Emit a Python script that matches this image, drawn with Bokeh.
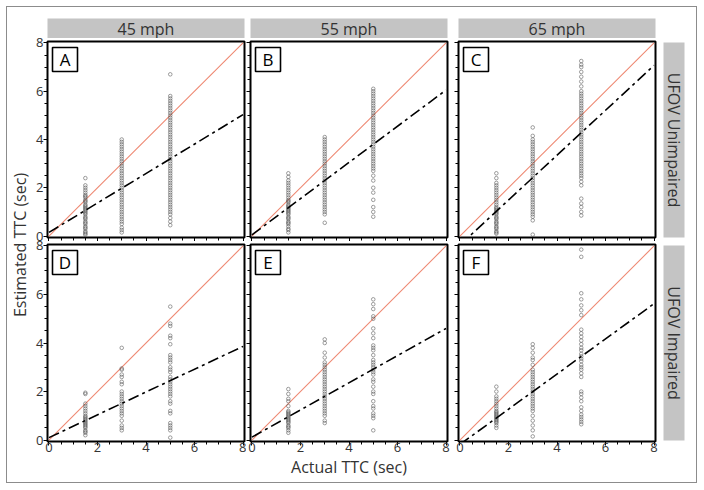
import math
from bokeh.plotting import figure
from bokeh.layouts import row, column
from bokeh.models import Range1d, SingleIntervalTicker, FixedTicker, Spacer
from bokeh.core.properties import value
from bokeh.embed import file_html
from bokeh.resources import INLINE

FONT = "Open Sans"
TXT = "#333333"

# ---------------- data ----------------
speeds = ["45 mph", "55 mph", "65 mph"]
groups = ["UFOV Unimpaired", "UFOV Impaired"]
letters = [["A", "B", "C"], ["D", "E", "F"]]
actual_ttc = [1.5, 3.0, 5.0]
tick_values = [0, 2, 4, 6, 8]
x_title = "Actual TTC (sec)"
y_title = "Estimated TTC (sec)"

A_15 = [0.05, 0.1, 0.15, 0.2, 0.3, 0.35, 0.4, 0.5, 0.55, 0.6, 0.7, 0.75, 0.8, 0.9, 0.95, 1.0, 1.05, 1.1,
        1.15, 1.2, 1.25, 1.3, 1.4, 1.45, 1.5, 1.6, 1.65, 1.7, 1.8, 1.9, 2.0, 2.1, 2.4]
A_3 = [0.15, 0.25, 0.35, 0.5, 0.6, 0.7, 0.8, 0.9, 1.0, 1.1, 1.2, 1.3, 1.4, 1.5, 1.6, 1.7, 1.8, 1.9, 2.0,
       2.1, 2.2, 2.3, 2.4, 2.5, 2.6, 2.7, 2.8, 2.9, 3.0, 3.1, 3.2, 3.3, 3.4, 3.5, 3.6, 3.7, 3.8, 3.9, 4.0]
A_5 = [0.45, 0.6, 0.75, 0.9, 1.0, 1.1, 1.2, 1.3, 1.4, 1.5, 1.6, 1.7, 1.8, 1.9, 2.0, 2.1, 2.2, 2.3, 2.4,
       2.5, 2.6, 2.7, 2.8, 2.9, 3.0, 3.1, 3.2, 3.3, 3.4, 3.5, 3.6, 3.7, 3.8, 3.9, 4.0, 4.1, 4.2, 4.3,
       4.4, 4.5, 4.6, 4.7, 4.8, 4.9, 5.0, 5.1, 5.2, 5.3, 5.4, 5.5, 5.6, 5.7, 5.8, 6.7]

B_15 = [0.15, 0.25, 0.3, 0.4, 0.5, 0.55, 0.6, 0.7, 0.75, 0.8, 0.9, 0.95, 1.0, 1.05, 1.1, 1.15, 1.2, 1.25,
        1.3, 1.4, 1.45, 1.5, 1.6, 1.7, 1.8, 1.9, 2.0, 2.1, 2.2, 2.3, 2.45, 2.6]
B_3 = [0.55, 0.9, 1.0, 1.1, 1.2, 1.3, 1.4, 1.5, 1.6, 1.7, 1.8, 1.9, 2.0, 2.1, 2.2, 2.3, 2.4, 2.5, 2.6,
       2.7, 2.8, 2.9, 3.0, 3.1, 3.2, 3.3, 3.4, 3.5, 3.6, 3.7, 3.8, 3.9, 4.0, 4.1]
B_5 = [0.8, 1.0, 1.2, 1.5, 1.8, 2.0, 2.3, 2.5, 2.7, 2.8, 2.9, 3.0, 3.1, 3.2, 3.3, 3.4, 3.5, 3.6, 3.7,
       3.8, 3.9, 4.0, 4.1, 4.2, 4.3, 4.4, 4.5, 4.6, 4.7, 4.8, 4.9, 5.0, 5.1, 5.2, 5.3, 5.4, 5.5, 5.6,
       5.7, 5.8, 5.9, 6.0, 6.1]

C_15 = [0.1, 0.15, 0.2, 0.3, 0.35, 0.4, 0.5, 0.55, 0.6, 0.7, 0.75, 0.8, 0.9, 0.95, 1.0, 1.05, 1.1, 1.15,
        1.2, 1.3, 1.4, 1.5, 1.6, 1.7, 1.8, 1.9, 2.0, 2.1, 2.2, 2.4, 2.6]
C_3 = [0.06, 0.65, 0.8, 0.9, 1.0, 1.1, 1.2, 1.3, 1.4, 1.5, 1.6, 1.7, 1.8, 1.9, 2.0, 2.1, 2.2, 2.3, 2.4,
       2.5, 2.6, 2.7, 2.8, 2.9, 3.0, 3.1, 3.2, 3.3, 3.4, 3.5, 3.6, 3.7, 3.8, 3.9, 4.0, 4.15, 4.5]
C_5 = [0.85, 1.0, 1.2, 1.35, 1.55, 2.1, 2.25, 2.4, 2.5, 2.6, 2.7, 2.8, 2.9, 3.0, 3.1, 3.2, 3.3, 3.4,
       3.5, 3.6, 3.7, 3.8, 3.9, 4.0, 4.1, 4.2, 4.3, 4.4, 4.5, 4.6, 4.7, 4.8, 4.9, 5.0, 5.1, 5.2, 5.3,
       5.4, 5.5, 5.6, 5.7, 5.8, 5.9, 6.0, 6.2, 6.4, 6.6, 6.8, 7.0, 7.1, 7.25]

D_15 = [0.2, 0.3, 0.35, 0.4, 0.5, 0.55, 0.6, 0.65, 0.7, 0.75, 0.8, 0.85, 0.9, 0.95, 1.0, 1.1, 1.2, 1.3,
        1.4, 1.5, 1.9, 1.95]
D_3 = [0.4, 0.5, 0.6, 0.8, 1.0, 1.1, 1.2, 1.3, 1.4, 1.5, 1.6, 1.7, 1.8, 1.9, 2.0, 2.3, 2.4, 2.6, 2.7,
       2.9, 2.95, 3.8]
D_5 = [0.1, 0.4, 0.5, 0.6, 0.7, 1.1, 1.2, 1.5, 1.6, 1.8, 1.9, 2.0, 2.1, 2.2, 2.3, 2.4, 2.5, 2.6, 2.8,
       2.9, 3.0, 3.2, 3.3, 3.4, 3.5, 3.95, 4.2, 4.3, 4.7, 4.8, 5.5]

E_15 = [0.3, 0.4, 0.5, 0.55, 0.6, 0.7, 0.75, 0.8, 0.85, 0.9, 0.95, 1.0, 1.05, 1.1, 1.15, 1.2, 1.4, 1.6,
        1.7, 1.9, 2.1]
E_3 = [0.7, 0.8, 1.0, 1.1, 1.2, 1.3, 1.4, 1.5, 1.6, 1.7, 1.8, 1.9, 2.0, 2.1, 2.2, 2.3, 2.4, 2.5, 2.6,
       2.7, 2.8, 2.9, 3.0, 3.1, 3.2, 3.4, 3.6, 4.0, 4.15]
E_5 = [0.4, 0.9, 1.0, 1.1, 1.3, 1.4, 1.6, 1.9, 2.0, 2.2, 2.4, 2.5, 2.7, 2.8, 2.9, 3.0, 3.1, 3.2, 3.3,
       3.5, 3.7, 3.8, 3.9, 4.2, 4.4, 4.6, 5.0, 5.1, 5.4, 5.6, 5.8]

F_15 = [0.5, 0.6, 0.7, 0.75, 0.8, 0.85, 0.9, 0.95, 1.0, 1.05, 1.1, 1.15, 1.2, 1.3, 1.4, 1.5, 1.6, 1.7,
        1.8, 2.0, 2.2]
F_3 = [0.15, 0.4, 0.6, 0.8, 1.0, 1.2, 1.3, 1.4, 1.5, 1.6, 1.7, 1.8, 1.9, 2.0, 2.1, 2.2, 2.3, 2.4, 2.5,
       2.6, 2.7, 2.8, 2.9, 3.1, 3.3, 3.4, 3.6, 3.8, 3.95]
F_5 = [0.65, 0.75, 0.85, 0.95, 1.05, 1.2, 1.35, 1.6, 1.75, 1.9, 2.0, 2.6, 2.75, 2.9, 3.0, 3.1, 3.25,
       3.35, 3.45, 3.55, 3.7, 3.8, 3.95, 4.1, 4.25, 4.4, 4.55, 5.15, 5.35, 5.55, 5.8, 6.05, 7.55, 7.85]

estimated = [[[A_15, A_3, A_5], [B_15, B_3, B_5], [C_15, C_3, C_5]],
             [[D_15, D_3, D_5], [E_15, E_3, E_5], [F_15, F_3, F_5]]]

fit_intercept = [[0.15, 0.05, -0.37], [0.10, 0.12, -0.18]]
fit_slope = [[0.61, 0.75, 0.93], [0.47, 0.56, 0.725]]

# ---------------- layout geometry ----------------
X_LO, X_HI = -0.06, 8.06
FRAME_W = 197
FRAME_H = [196, 197]
COL_LEFT = [4, 4, 4]
COL_RIGHT = [2, 7, 5]
ROW_TOP = [3, 3]
ROW_BOTTOM = [4, 41]
HEADER_H = 31
HEADER_TOP = 11
YLAB_W = 36
STRIP_GRAY = "#c4c4c4"


def style_axis(ax, show_labels):
    ax.ticker = SingleIntervalTicker(interval=2, num_minor_ticks=4)
    ax.axis_line_color = None
    ax.major_tick_in = 0
    ax.major_tick_out = 4
    ax.minor_tick_in = 0
    ax.minor_tick_out = 3
    ax.major_tick_line_color = "black"
    ax.minor_tick_line_color = "black"
    if show_labels:
        ax.major_label_text_font = FONT
        ax.major_label_text_font_size = "13px"
        ax.major_label_text_color = TXT
    else:
        ax.major_label_text_font_size = "0px"
        ax.major_label_overrides = {t: "" for t in tick_values}
        ax.major_label_standoff = 0


def make_panel(r, c):
    fh = FRAME_H[r]
    p = figure(width=COL_LEFT[c] + FRAME_W + COL_RIGHT[c],
               height=ROW_TOP[r] + fh + ROW_BOTTOM[r],
               x_range=Range1d(X_LO, X_HI), y_range=Range1d(X_LO, X_HI),
               min_border_left=COL_LEFT[c], min_border_right=COL_RIGHT[c],
               min_border_top=ROW_TOP[r], min_border_bottom=ROW_BOTTOM[r],
               toolbar_location=None, output_backend="svg")
    p.grid.visible = False
    p.outline_line_color = "black"
    p.outline_line_width = 2
    p.background_fill_color = "white"
    p.border_fill_color = "white"

    style_axis(p.yaxis[0], False)
    style_axis(p.xaxis[0], r == 1)
    if r == 1:
        p.xaxis[0].major_label_standoff = -3
    if r == 1 and c == 1:
        ax = p.xaxis[0]
        ax.axis_label = x_title
        ax.axis_label_text_font = FONT
        ax.axis_label_text_font_size = "16px"
        ax.axis_label_text_font_style = "normal"
        ax.axis_label_text_color = TXT
        ax.axis_label_standoff = 1

    lo, hi = tick_values[0], tick_values[-1]
    p.line([lo, hi], [lo, hi], line_color="#ee8872", line_width=1.1)

    for xv, ys in zip(actual_ttc, estimated[r][c]):
        p.scatter([xv] * len(ys), ys, marker="circle", size=3.6, fill_color=None,
                  line_color="#555555", line_width=0.7, line_alpha=0.8)

    b, m = fit_intercept[r][c], fit_slope[r][c]
    p.line([lo, hi], [b + m * lo, b + m * hi], line_color="black", line_width=1.6,
           line_dash="11 4 3 4")

    # panel letter box: 25x24 px, 5 px from the left edge, 6 px from the top of the frame
    ux = (X_HI - X_LO) / FRAME_W
    uy = (X_HI - X_LO) / fh
    cx = X_LO + 17.5 * ux
    cy = X_HI - 18 * uy
    p.rect(x=[cx], y=[cy], width=25, height=24, width_units="screen", height_units="screen",
           fill_color="white", line_color="black", line_width=1.6)
    p.text(x=[cx], y=[cy], text=[letters[r][c]], text_align="center", text_baseline="middle",
           text_font=value(FONT), text_font_size="17px", text_color="black")
    return p


def make_header(c):
    p = figure(width=COL_LEFT[c] + FRAME_W + COL_RIGHT[c], height=HEADER_H,
               x_range=Range1d(0, 1), y_range=Range1d(0, 1),
               min_border_left=COL_LEFT[c], min_border_right=COL_RIGHT[c],
               min_border_top=HEADER_TOP, min_border_bottom=0,
               x_axis_type=None, y_axis_type=None,
               toolbar_location=None, output_backend="svg")
    p.grid.visible = False
    p.outline_line_color = None
    p.background_fill_color = STRIP_GRAY
    p.border_fill_color = "white"
    p.text(x=[0.5], y=[0.5], text=[speeds[c]], text_align="center", text_baseline="middle",
           text_font=value(FONT), text_font_size="16px", text_color=TXT)
    return p


def make_strip(r):
    fh = FRAME_H[r]
    p = figure(width=3 + 21 + 12, height=ROW_TOP[r] + fh + ROW_BOTTOM[r],
               x_range=Range1d(0, 1), y_range=Range1d(0, 1),
               min_border_left=3, min_border_right=12,
               min_border_top=ROW_TOP[r] + 1, min_border_bottom=ROW_BOTTOM[r] + (fh - 196),
               x_axis_type=None, y_axis_type=None,
               toolbar_location=None, output_backend="svg")
    p.grid.visible = False
    p.outline_line_color = None
    p.background_fill_color = STRIP_GRAY
    p.border_fill_color = "white"
    p.text(x=[0.5], y=[0.5], text=[groups[r]], text_align="center", text_baseline="middle",
           angle=-math.pi / 2, text_font=value(FONT), text_font_size="16px", text_color=TXT)
    return p


# ---------- shared left axis (tick labels of both rows + y title) ----------
total_h = HEADER_H + sum(ROW_TOP[r] + FRAME_H[r] + ROW_BOTTOM[r] for r in range(2))
frame_tops = [HEADER_H + ROW_TOP[0],
              HEADER_H + ROW_TOP[0] + FRAME_H[0] + ROW_BOTTOM[0] + ROW_TOP[1]]
tick_pos = []
tick_text = {}
for r in range(2):
    px_per_unit = FRAME_H[r] / (X_HI - X_LO)
    for t in tick_values:
        pos = frame_tops[r] + (X_HI - t) * px_per_unit
        tick_pos.append(pos)
        tick_text[pos] = str(t)

ylab = figure(width=YLAB_W, height=total_h, x_range=Range1d(0, 1),
              y_range=Range1d(total_h, 0),
              min_border_left=YLAB_W - 1, min_border_right=0, min_border_top=0, min_border_bottom=0,
              x_axis_type=None, toolbar_location=None, output_backend="svg")
ylab.grid.visible = False
ylab.outline_line_color = None
ylab.background_fill_color = None
yax = ylab.yaxis[0]
yax.ticker = FixedTicker(ticks=tick_pos)
yax.major_label_overrides = tick_text
yax.axis_line_color = None
yax.major_tick_out = 0
yax.major_tick_in = 0
yax.minor_tick_out = 0
yax.minor_tick_in = 0
yax.major_label_standoff = 0
yax.major_label_text_font = FONT
yax.major_label_text_font_size = "13px"
yax.major_label_text_color = TXT
yax.axis_label = y_title
yax.axis_label_text_font = FONT
yax.axis_label_text_font_size = "16px"
yax.axis_label_text_font_style = "normal"
yax.axis_label_text_color = TXT
yax.axis_label_standoff = 2

cols = []
for c in range(3):
    cols.append(column(make_header(c), make_panel(0, c), make_panel(1, c), spacing=0))
right_col = column(Spacer(width=36, height=HEADER_H), make_strip(0), make_strip(1), spacing=0)

layout = row(ylab, *cols, right_col, spacing=0, margin=(6, 0, 0, 6),
             styles={"border": "1px solid #8c8c8c"})

open("out.html", "w").write(file_html(layout, INLINE))
